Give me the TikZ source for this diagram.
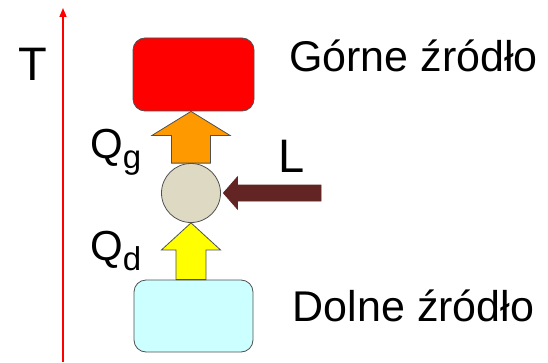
\documentclass[tikz,border=0pt]{standalone}
\usepackage{fontspec}
\setmainfont{Liberation Sans}
\usepackage{xcolor}
\usepackage{tikz}
\usetikzlibrary{arrows.meta, calc}

\definecolor{hotred}{RGB}{255,0,0}
\definecolor{coldblue}{RGB}{204,255,255}
\definecolor{qgorange}{RGB}{255,153,0}
\definecolor{qdyellow}{RGB}{255,255,0}
\definecolor{worktan}{RGB}{221,217,195}
\definecolor{workbrown}{RGB}{99,37,35}
\definecolor{edgegray}{RGB}{80,80,80}

\begin{document}
\begin{tikzpicture}[
  x=1pt, y=1pt,
  box/.style={draw=edgegray, line width=0.8pt, rounded corners=12pt,
              minimum width=121pt, minimum height=73pt, inner sep=0pt},
  engine/.style={circle, draw=edgegray, line width=0.8pt, fill=worktan,
                 minimum size=59pt, inner sep=0pt},
  fatarrow/.style={draw=edgegray, line width=0.8pt, line join=miter},
  txt/.style={inner sep=0pt, anchor=base west, font=\fontsize{43}{43}\selectfont},
  big/.style={txt, font=\fontsize{47}{47}\selectfont},
  axis/.style={draw=red, line width=1.5pt, -{Triangle[length=9pt, width=7pt]}}
]
  \useasboundingbox (0,0) rectangle (548,362);

  % temperature axis
  \coordinate (tlow)  at (63,0);
  \coordinate (thigh) at (63,354);
  \draw[axis] (tlow) -- (thigh);
  \node[big] (tname) at (18,281) {T};

  % reservoirs and the engine between them
  \node[box, fill=hotred]   (hot)  at (193.5,287.5) {};
  \node[box, fill=coldblue, minimum width=119pt, minimum height=72pt] (cold) at (193.5,46) {};
  \node[engine] (ring) at (191,169) {};

  \node[txt] (hotname)  at (289,290) {Górne źródło};
  \node[txt] (coldname) at (292.6,41) {Dolne źródło};

  % heat taken from the lower reservoir
  \coordinate (qdbase) at (ring.south |- cold.north);
  \draw[fatarrow, fill=qdyellow]
    ($(qdbase)+(-15,0)$) -- ($(ring.south)+(-15,-27)$) -- ($(ring.south)+(-29.5,-27)$)
    -- (ring.south) -- ($(ring.south)+(29.5,-27)$) -- ($(ring.south)+(15,-27)$)
    -- ($(qdbase)+(15,0)$) -- cycle;

  % heat given to the upper reservoir
  \coordinate (qgtip) at (ring.north |- hot.south);
  \draw[fatarrow, fill=qgorange]
    ($(ring.north)+(-19.5,0)$) -- ($(qgtip)+(-19.5,-24)$) -- ($(qgtip)+(-39,-24)$)
    -- (qgtip) -- ($(qgtip)+(39,-24)$) -- ($(qgtip)+(19.5,-24)$)
    -- ($(ring.north)+(19.5,0)$) -- cycle;

  % work put in
  \coordinate (wtip)  at ([xshift=2.5pt]ring.east);
  \coordinate (wtail) at (321,169);
  \draw[fatarrow, draw=workbrown, fill=workbrown]
    ($(wtail)+(0,8)$) -- ($(wtip)+(14,8)$) -- ($(wtip)+(14,16)$) -- (wtip)
    -- ($(wtip)+(14,-16)$) -- ($(wtip)+(14,-8)$) -- ($(wtail)+(0,-8)$) -- cycle;

  \node[txt, font=\fontsize{42}{42}\selectfont] (qglabel) at (90,203.5)
    {Q\raisebox{-10pt}{\fontsize{33}{33}\selectfont g}};
  \node[txt, font=\fontsize{42}{42}\selectfont] (qdlabel) at (90,101.5)
    {Q\raisebox{-9.5pt}{\fontsize{33}{33}\selectfont d}};
  \node[big] (wlabel) at (278.5,190) {L};
\end{tikzpicture}
\end{document}
